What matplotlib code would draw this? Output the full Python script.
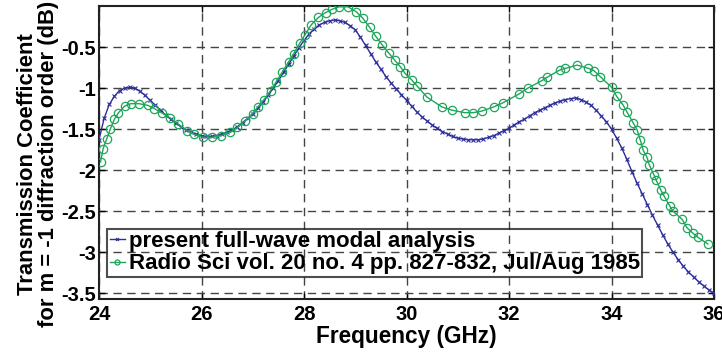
import numpy as np
import matplotlib
matplotlib.use("Agg")
import matplotlib.pyplot as plt

# ---- data ----
blue_freq = [round(24.0 + 0.1 * i, 1) for i in range(121)]
blue_db = [
    -1.63, -1.37, -1.20, -1.10, -1.03, -1.00, -0.99, -1.00, -1.04, -1.09,
    -1.15, -1.21, -1.27, -1.33, -1.38, -1.43, -1.47, -1.51, -1.54, -1.56,
    -1.58, -1.59, -1.59, -1.58, -1.56, -1.54, -1.51, -1.47, -1.42, -1.37,
    -1.31, -1.24, -1.17, -1.09, -1.00, -0.91, -0.81, -0.71, -0.61, -0.51,
    -0.42, -0.34, -0.28, -0.23, -0.20, -0.18, -0.17, -0.18, -0.20, -0.24,
    -0.29, -0.38, -0.48, -0.58, -0.68, -0.77, -0.86, -0.94, -1.01, -1.08,
    -1.15, -1.22, -1.29, -1.35, -1.40, -1.45, -1.49, -1.53, -1.56, -1.59,
    -1.61, -1.62, -1.63, -1.63, -1.63, -1.62, -1.60, -1.58, -1.55, -1.52,
    -1.49, -1.45, -1.41, -1.38, -1.34, -1.30, -1.27, -1.24, -1.21, -1.18,
    -1.16, -1.14, -1.13, -1.12, -1.14, -1.17, -1.21, -1.27, -1.34, -1.41,
    -1.50, -1.61, -1.73, -1.87, -2.02, -2.16, -2.29, -2.42, -2.55, -2.67,
    -2.79, -2.90, -3.00, -3.09, -3.17, -3.24, -3.30, -3.36, -3.41, -3.46,
    -3.50,
]

green_freq = [
    24.03, 24.08, 24.15, 24.22, 24.30, 24.38, 24.50, 24.62, 24.78, 24.95,
    25.08, 25.22, 25.38, 25.55, 25.72, 25.85, 26.03, 26.20, 26.38, 26.55,
    26.70, 26.85, 27.00, 27.10, 27.22, 27.35, 27.45, 27.58, 27.70, 27.80,
    27.92, 28.02, 28.14, 28.28, 28.42, 28.55, 28.68, 28.86, 29.02, 29.15,
    29.28, 29.40, 29.52, 29.65, 29.77, 29.88, 29.97, 30.10, 30.20, 30.40,
    30.69, 30.89, 31.14, 31.30, 31.47, 31.70, 31.88, 32.20, 32.37, 32.64,
    32.74, 32.99, 33.10, 33.33, 33.55, 33.66, 33.78, 34.00, 34.10, 34.23,
    34.30, 34.42, 34.50, 34.56, 34.62, 34.69, 34.74, 34.83, 34.87, 34.96,
    35.03, 35.14, 35.20, 35.38, 35.47, 35.59, 35.69, 35.88,
]
green_db = [
    -1.90, -1.74, -1.62, -1.50, -1.38, -1.30, -1.22, -1.19, -1.19, -1.21,
    -1.25, -1.30, -1.36, -1.44, -1.52, -1.56, -1.60, -1.60, -1.58, -1.54,
    -1.48, -1.40, -1.31, -1.23, -1.14, -1.03, -0.93, -0.80, -0.68, -0.58,
    -0.45, -0.35, -0.23, -0.14, -0.08, -0.04, -0.01, -0.01, -0.07, -0.15,
    -0.26, -0.37, -0.47, -0.57, -0.66, -0.74, -0.82, -0.90, -0.97, -1.11,
    -1.23, -1.27, -1.30, -1.30, -1.28, -1.23, -1.18, -1.07, -1.00, -0.91,
    -0.87, -0.78, -0.76, -0.72, -0.76, -0.79, -0.86, -0.99, -1.10, -1.21,
    -1.29, -1.42, -1.51, -1.63, -1.76, -1.84, -1.94, -2.06, -2.12, -2.24,
    -2.32, -2.44, -2.50, -2.60, -2.70, -2.77, -2.82, -2.90,
]

x_ticks = [24, 26, 28, 30, 32, 34, 36]
y_ticks = [-3.5, -3, -2.5, -2, -1.5, -1, -0.5]
y_tick_labels = ["-3.5", "-3", "-2.5", "-2", "-1.5", "-1", "-0.5"]
label_blue = "present full-wave modal analysis"
label_green = "Radio Sci vol. 20 no. 4 pp. 827-832, Jul/Aug 1985"

# ---- plot ----
plt.rcParams['font.family'] = ['Liberation Sans', 'DejaVu Sans']
plt.rcParams['font.weight'] = 'bold'

fig = plt.figure(figsize=(7.22, 3.54), dpi=100)
ax = fig.add_axes([99 / 722, 1 - 299 / 354, 615 / 722, 293 / 354])

blue = '#2e2e9c'
green = '#1fa55c'
ax.plot(blue_freq, blue_db, color=blue, lw=1.0, marker='x', ms=3.5, mew=0.8,
        label=label_blue, zorder=3)
ax.plot(green_freq, green_db, color=green, lw=1.0, marker='o', ms=6.0, mew=0.9,
        mfc='none', label=label_green, zorder=3)

ax.set_xlim(24, 36)
ax.set_ylim(-3.57, 0.0)
ax.set_xticks(x_ticks)
ax.set_yticks(y_ticks)
ax.set_yticklabels(y_tick_labels)
ax.tick_params(direction='in', length=4, width=1, labelsize=14.5,
               top=True, right=True)
ax.tick_params(axis='y', pad=2)
ax.tick_params(axis='x', pad=4)
for lab in ax.get_xticklabels() + ax.get_yticklabels():
    lab.set_fontweight('bold')
for s in ax.spines.values():
    s.set_linewidth(1.5)
    s.set_color('#222222')

ax.grid(True, color='#444444', ls=(0, (6, 4)), lw=1.0)
ax.set_axisbelow(True)

ax.set_xlabel('Frequency (GHz)', fontsize=16.3, fontweight='bold', labelpad=1)
ax.set_ylabel('Transmission Coefficient\nfor m = -1 diffraction order (dB)',
              fontsize=15.8, fontweight='bold', linespacing=1.0)
ax.yaxis.set_label_coords(-0.065, 0.46)

leg = ax.legend(loc='lower left', bbox_to_anchor=(0.013, 0.075),
                borderaxespad=0, fontsize=16, handlelength=0.7,
                handletextpad=0.15, borderpad=0.12, labelspacing=0.05,
                fancybox=False, frameon=True, markerscale=0.6)
leg.get_frame().set_facecolor('none')
leg.get_frame().set_edgecolor('#222222')
leg.get_frame().set_linewidth(1.5)
for t in leg.get_texts():
    t.set_fontweight('bold')

fig.savefig('out.png', dpi=100)
